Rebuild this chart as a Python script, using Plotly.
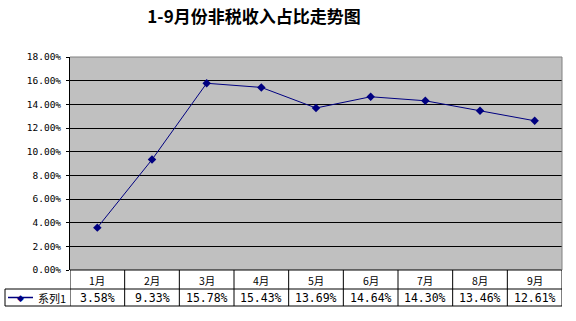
import plotly.graph_objects as go

months = ["1月", "2月", "3月", "4月", "5月", "6月", "7月", "8月", "9月"]
values = [3.58, 9.33, 15.78, 15.43, 13.69, 14.64, 14.30, 13.46, 12.61]
series_name = "系列1"
title_text = "1-9月份非税收入占比走势图"
y_ticks = [0, 2, 4, 6, 8, 10, 12, 14, 16, 18]

NAVY = "#000080"
W, H = 576, 321
ML, MR, MT, MB = 70, 14, 57, 51
PW, PH = W - ML - MR, H - MT - MB


def py(pix):  # pixel row -> paper y
    return (H - MB - pix) / PH


def px(pix):  # pixel column -> paper x
    return (pix - ML) / PW


xs = list(range(len(months)))

fig = go.Figure()
fig.add_trace(go.Scatter(
    x=xs, y=values, mode="lines+markers",
    line=dict(color=NAVY, width=1),
    marker=dict(symbol="diamond", size=6.5, color=NAVY),
    showlegend=False, hoverinfo="skip",
))

shapes = []
row1_bottom = py(289)
row2_bottom = py(306)
# horizontal lines of the data table
shapes.append(dict(type="line", xref="paper", yref="paper", x0=0, x1=1, y0=0, y1=0,
                   line=dict(color="black", width=1)))
shapes.append(dict(type="line", xref="paper", yref="paper", x0=px(5), x1=1,
                   y0=row1_bottom, y1=row1_bottom, line=dict(color="black", width=1)))
shapes.append(dict(type="line", xref="paper", yref="paper", x0=px(5), x1=1,
                   y0=row2_bottom, y1=row2_bottom, line=dict(color="black", width=1)))
shapes.append(dict(type="line", xref="paper", yref="paper", x0=px(5), x1=px(5),
                   y0=row1_bottom, y1=row2_bottom, line=dict(color="black", width=1)))
# vertical column dividers
for k in range(len(months) + 1):
    shapes.append(dict(type="line", xref="x", yref="paper", x0=k - 0.5, x1=k - 0.5,
                       y0=0, y1=row2_bottom, line=dict(color="black", width=1)))
# plot-area border (gray)
shapes.append(dict(type="line", xref="paper", yref="paper", x0=0, x1=1, y0=1, y1=1,
                   line=dict(color="#808080", width=1)))
shapes.append(dict(type="line", xref="paper", yref="paper", x0=1, x1=1, y0=0, y1=1,
                   line=dict(color="#808080", width=1)))
# legend key line
shapes.append(dict(type="line", xref="paper", yref="paper", x0=px(8), x1=px(33),
                   y0=py(297.5), y1=py(297.5), line=dict(color=NAVY, width=1.5)))

annotations = []
cell_font = dict(family="DejaVu Sans Mono, Noto Sans CJK SC", size=11.5, color="black")
for i, m in enumerate(months):
    annotations.append(dict(x=i, y=py(280), xref="x", yref="paper", text=m,
                            showarrow=False, font=dict(family="Noto Sans CJK SC", size=10.5, color="black"),
                            xanchor="center", yanchor="middle"))
    annotations.append(dict(x=i, y=py(297.5), xref="x", yref="paper", text=f"{values[i]:.2f}%",
                            showarrow=False, font=cell_font,
                            xanchor="center", yanchor="middle"))
annotations.append(dict(x=px(20.5), y=py(297.5), xref="paper", yref="paper", text="◆",
                        showarrow=False, font=dict(size=9, color=NAVY, family="DejaVu Sans"),
                        xanchor="center", yanchor="middle"))
annotations.append(dict(x=px(36), y=py(297.5), xref="paper", yref="paper", text=series_name,
                        showarrow=False, font=dict(family="Noto Sans CJK SC", size=11, color="black"),
                        xanchor="left", yanchor="middle"))

fig.update_layout(
    width=W, height=H,
    margin=dict(l=ML, r=MR, t=MT, b=MB),
    paper_bgcolor="white",
    plot_bgcolor="#C0C0C0",
    title=dict(text=title_text, x=254 / W, xref="container", xanchor="center",
               y=1 - 17 / H, yref="container", yanchor="middle",
               font=dict(family="Noto Sans CJK SC", size=17, color="black", weight="bold")),
    xaxis=dict(range=[-0.5, len(months) - 0.5], showticklabels=False, showgrid=False,
               zeroline=False, showline=False, fixedrange=True),
    yaxis=dict(range=[0, 18], tickvals=y_ticks, ticktext=[f"{t:.2f}%" for t in y_ticks],
               showgrid=True, gridcolor="black", gridwidth=1, zeroline=False,
               showline=True, linecolor="black", linewidth=1,
               ticks="outside", ticklen=3, tickcolor="black",
               tickfont=dict(family="DejaVu Sans Mono", size=9.5, color="black"),
               ticklabelstandoff=3),
    shapes=shapes,
    annotations=annotations,
    showlegend=False,
)

fig.write_html("out.html")
